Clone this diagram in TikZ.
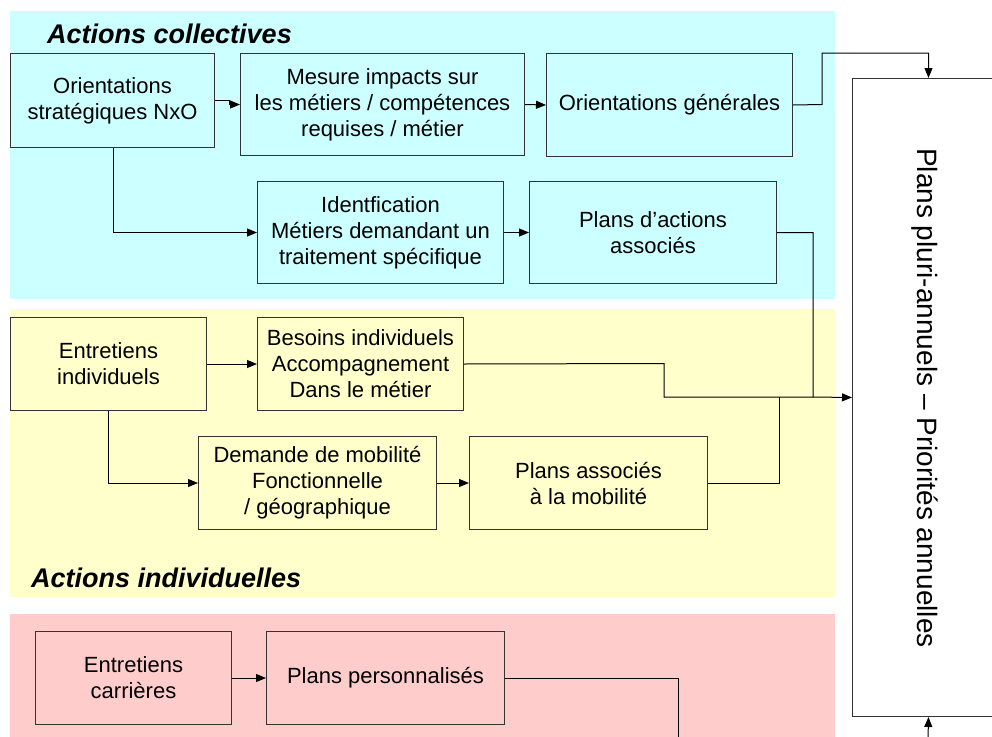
\documentclass[tikz,border=0pt]{standalone}
\usepackage{fontspec}
\setmainfont{Liberation Sans}
\usetikzlibrary{arrows.meta}
\definecolor{cyanbg}{HTML}{CCFFFF}
\definecolor{yellowbg}{HTML}{FFFFCC}
\definecolor{pinkbg}{HTML}{FFCCCC}
\begin{document}
\begin{tikzpicture}[x=1pt,y=-1pt,
 box/.style={draw=black!80, line width=1pt, rectangle, anchor=north west, inner sep=0pt, align=center, font=\fontsize{22}{26}\selectfont},
 conn/.style={draw=black, line width=1pt},
 arr/.style={conn, -{Triangle[length=10pt,width=8pt]}},
 title/.style={font=\fontsize{27}{30}\selectfont\bfseries\itshape, anchor=base west, inner sep=0pt}]
\useasboundingbox (0,0) rectangle (992,736);
\fill[white] (0,0) rectangle (992,736);
% panels
\fill[cyanbg] (10,11) rectangle (835,299);
\fill[yellowbg] (10,309) rectangle (835,597);
\fill[pinkbg] (10,614) rectangle (835,740);
% titles
\node[title] (t1) at (47,43) {Actions collectives};
\node[title] (t2) at (31,587) {Actions individuelles};
% big box
\node[box, fill=white, minimum width=152, minimum height=638] (pl) at (852,78) {};
\node[rotate=-90, anchor=base, font=\fontsize{28}{30}\selectfont, inner sep=0pt] (plt) at (917,398) {Plans pluri-annuels – Priorités annuelles};
% collective boxes
\node[box, fill=cyanbg, minimum width=204, minimum height=94] (os) at (10,53) {Orientations\\stratégiques NxO};
\node[box, fill=cyanbg, minimum width=284, minimum height=102] (mi) at (240,53) {Mesure impacts sur\\les métiers / compétences\\requises / métier};
\node[box, fill=cyanbg, minimum width=246, minimum height=103] (og) at (546,53) {Orientations générales};
\node[box, fill=cyanbg, minimum width=246, minimum height=102] (id) at (257,181) {Identfication\\Métiers demandant un\\traitement spécifique};
\node[box, fill=cyanbg, minimum width=247, minimum height=102] (pa) at (529,181) {Plans d’actions\\associés};
% individual boxes
\node[box, fill=yellowbg, minimum width=196, minimum height=93] (ei) at (10,317) {Entretiens\\individuels};
\node[box, fill=yellowbg, minimum width=206, minimum height=93] (bi) at (257,317) {Besoins individuels\\Accompagnement\\Dans le métier};
\node[box, fill=yellowbg, minimum width=238, minimum height=93] (dm) at (198,436) {Demande de mobilité\\Fonctionnelle\\/ géographique};
\node[box, fill=yellowbg, minimum width=238, minimum height=93] (pam) at (469,436) {Plans associés\\à la mobilité};
% career boxes
\node[box, fill=pinkbg, minimum width=196, minimum height=93] (ec) at (35,631) {Entretiens\\carrières};
\node[box, fill=pinkbg, minimum width=238, minimum height=93] (pp) at (266,631) {Plans personnalisés};
% connectors
\coordinate (j1) at (813,397);
\coordinate (bot) at (928,740);
\coordinate (ppend) at (678,740);
\draw[arr] (os.east) -- ++(14,0) |- (mi.west);
\draw[arr] (mi.east) -- (og.west);
\draw[arr] (og.east) -- (822,104.5) -- (822,53) -| (pl.north);
\draw[arr] (os.south -| 113,0) |- (id.west);
\draw[arr] (id.east) -- (pa.west);
\draw[arr] (pa.east) -| (j1) -- (pl.west);
\draw[conn] (bi.east) -- (664,363.5) |- (j1);
\draw[conn] (pam.east) -| (779,397);
\draw[arr] (ei.east) -- (bi.west);
\draw[arr] (ei.south) |- (dm.west);
\draw[arr] (dm.east) -- (pam.west);
\draw[arr] (ec.east) -- (pp.west);
\draw[conn] (pp.east) -| (ppend);
\draw[arr] (bot) -- (pl.south);
\end{tikzpicture}
\end{document}
